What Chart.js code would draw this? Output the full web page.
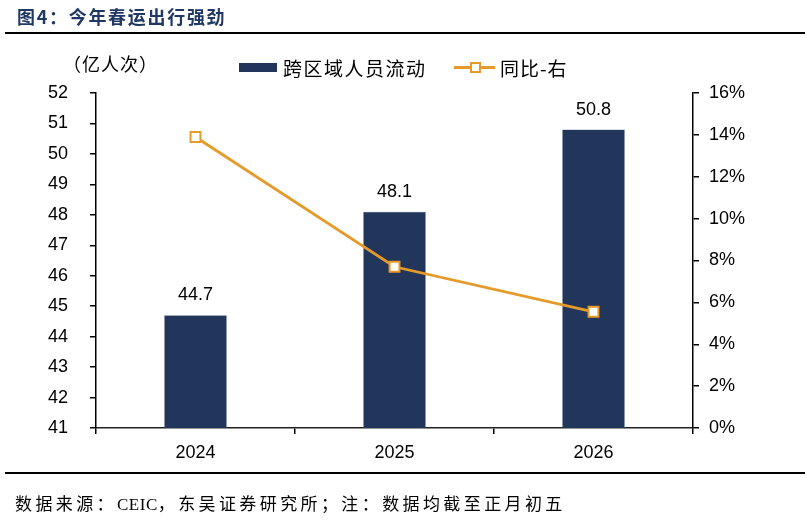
<!DOCTYPE html>
<html>
<head>
<meta charset="utf-8">
<script src="https://cdn.jsdelivr.net/npm/chart.js@4"></script>
<style>
  body { margin: 0; background: #fff; }
  #wrap { position: relative; width: 805px; height: 521px; overflow: hidden; }
  #chart { position: absolute; left: 0; top: 0; }
  .txt { position: absolute; white-space: nowrap; font-family: "Noto Sans CJK SC", sans-serif; color: #000; }
  .rule { position: absolute; left: 5px; width: 800px; height: 2px; background: #000; }
</style>
</head>
<body>
<div id="wrap">
  <canvas id="chart" width="805" height="521"></canvas>
  <div class="txt" style="left:17px;top:6px;font-size:18px;line-height:20px;font-weight:bold;color:#1F3864;letter-spacing:1.7px;">图4：今年春运出行强劲</div>
  <div class="rule" style="top:32px;"></div>
  <div class="txt" style="left:63px;top:52px;font-size:18px;line-height:22px;letter-spacing:1px;">（亿人次）</div>
  <div style="position:absolute;left:239px;top:63px;width:38px;height:9px;background:#22355A;"></div>
  <div class="txt" style="left:283px;top:56px;font-size:19px;line-height:23px;letter-spacing:1.5px;">跨区域人员流动</div>
  <div style="position:absolute;left:454px;top:66px;width:41px;height:3px;background:#E59A2A;"></div>
  <div style="position:absolute;left:470px;top:62px;width:7px;height:7px;border:2px solid #E59A2A;background:#fff;"></div>
  <div class="txt" style="left:500px;top:56px;font-size:19px;line-height:23px;letter-spacing:1px;">同比-右</div>
  <div class="rule" style="top:472px;"></div>
  <div class="txt" style="left:15px;top:494px;font-size:17px;line-height:22px;letter-spacing:3.4px;font-family:'Liberation Serif','Noto Sans CJK SC',serif;">数据来源：<span style="letter-spacing:0.5px;">CEIC</span>，东吴证券研究所；注：数据均截至正月初五</div>
</div>
<script>
// data
const categories = ['2024', '2025', '2026'];
const flowValues = [44.7, 48.1, 50.8];   // 跨区域人员流动, 亿人次
const yoyValues = [13.9, 7.7, 5.55];     // 同比, %
const leftMin = 41, leftMax = 52;
const rightMin = 0, rightMax = 16;

const barColor = '#22355A';
const lineColor = '#E59A2A';

// value labels above the bars
const barLabels = {
    id: 'barLabels',
    afterDatasetsDraw(chart) {
        const ctx = chart.ctx;
        const meta = chart.getDatasetMeta(0);
        ctx.save();
        ctx.font = '18px "Liberation Sans", Arial, sans-serif';
        ctx.fillStyle = '#000';
        ctx.textAlign = 'center';
        ctx.textBaseline = 'alphabetic';
        meta.data.forEach((bar, i) => {
            ctx.fillText(flowValues[i].toFixed(1), bar.x, bar.y - 15);
        });
        ctx.restore();
    }
};

const ctx = document.getElementById('chart').getContext('2d');
const chart = new Chart(ctx, {
    type: 'bar',
    data: {
        labels: categories,
        datasets: [{
            type: 'bar',
            label: '跨区域人员流动',
            data: flowValues,
            backgroundColor: barColor,
            borderColor: '#5A6A88',
            borderWidth: 0.5,
            categoryPercentage: 1,
            barPercentage: 0.315,
            yAxisID: 'y',
            order: 1
        }, {
            type: 'line',
            label: '同比-右',
            data: yoyValues,
            borderColor: lineColor,
            borderWidth: 2.8,
            pointStyle: 'rect',
            pointRadius: 7,
            pointBorderWidth: 2,
            pointBackgroundColor: '#fff',
            pointBorderColor: lineColor,
            tension: 0,
            yAxisID: 'y1',
            order: 0
        }]
    },
    options: {
        responsive: false,
        animation: false,
        layout: { padding: { top: 93, left: 0, right: 0, bottom: 0 } },
        plugins: {
            legend: { display: false },
            tooltip: { enabled: false }
        },
        scales: {
            x: {
                afterFit(scale) { scale.height = 93; },
                grid: { drawOnChartArea: false, drawTicks: true, tickLength: 6, color: '#000', lineWidth: 1.5 },
                border: { display: true, color: '#222', width: 1.5 },
                ticks: {
                    padding: 8,
                    color: '#000',
                    font: { family: '"Liberation Sans", Arial, sans-serif', size: 18 }
                }
            },
            y: {
                position: 'left',
                min: leftMin,
                max: leftMax,
                afterFit(scale) { scale.width = 96; },
                grid: { drawOnChartArea: false, drawTicks: true, tickLength: 6, color: '#000', lineWidth: 1.5 },
                border: { display: true, color: '#000', width: 1.5 },
                ticks: {
                    stepSize: 1,
                    padding: 22,
                    color: '#000',
                    font: { family: '"Liberation Sans", Arial, sans-serif', size: 18 }
                }
            },
            y1: {
                position: 'right',
                min: rightMin,
                max: rightMax,
                afterFit(scale) { scale.width = 112; },
                grid: { drawOnChartArea: false, drawTicks: true, tickLength: 6, color: '#000', lineWidth: 1.5 },
                border: { display: true, color: '#000', width: 1.5 },
                ticks: {
                    stepSize: 2,
                    padding: 10,
                    color: '#000',
                    font: { family: '"Liberation Sans Narrow", "Liberation Sans", Arial, sans-serif', size: 18 },
                    callback: v => v + '%'
                }
            }
        }
    },
    plugins: [barLabels]
});
</script>
</body>
</html>
